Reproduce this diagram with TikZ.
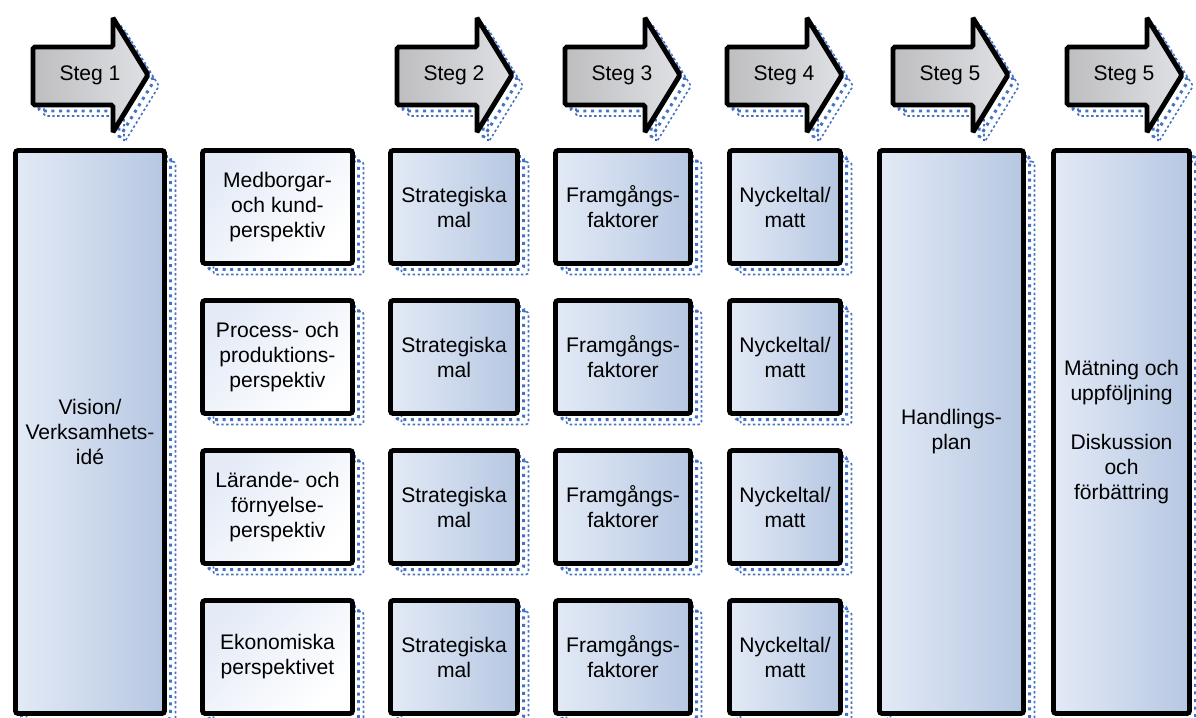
\documentclass[tikz,border=0pt]{standalone}
\usepackage{fontspec}
\setmainfont{Liberation Sans}
\newdimen\pxu
\pxu=0.02cm
\definecolor{shadowblue}{RGB}{68,114,196}
\definecolor{boxleft}{RGB}{227,234,246}
\definecolor{boxright}{RGB}{182,199,226}
\definecolor{persptop}{RGB}{228,235,247}
\definecolor{arrowleft}{RGB}{190,190,192}
\definecolor{arrowright}{RGB}{222,224,228}
\tikzset{
  dotshadow/.style={
    preaction={draw=shadowblue, line width=1.7pt, dash pattern=on 1.7pt off 2.6pt,
      transform canvas={shift={(6\pxu,-6\pxu)}}},
    preaction={draw=shadowblue, line width=0.9pt, dash pattern=on 1.4pt off 1.4pt,
      transform canvas={shift={(11\pxu,-11\pxu)}}}},
  anybox/.style={draw=black, line width=2.8pt, rounded corners=1.5pt, inner sep=0pt,
    align=center, font=\fontsize{12}{14.2}\selectfont, dotshadow},
  bluebox/.style={anybox, left color=boxleft, right color=boxright},
  perspbox/.style={anybox, top color=persptop, bottom color=white, shading angle=45},
  stegpilen/.style={draw=black, line width=2.8pt, rounded corners=1pt,
    left color=arrowleft, right color=arrowright, dotshadow},
  stegtext/.style={font=\fontsize{12}{14.2}\selectfont}
}
% arrow: left x, name, label
\newcommand{\stegpil}[3]{
  \draw[stegpilen] (#1,47) -- ++(80,0) -- ++(0,-29) -- ++(35,57) -- ++(-35,57)
    -- ++(0,-27) -- ++(-80,0) -- cycle;
  \node[stegtext] (#2) at (#1+57,75) {#3};
}
\begin{document}
\begin{tikzpicture}[x=0.02cm, y=-0.02cm]
\useasboundingbox (0,0) rectangle (1196,717);

% steg arrows
\stegpil{33}{steg1}{Steg 1}
\stegpil{397}{steg2}{Steg 2}
\stegpil{565}{steg3}{Steg 3}
\stegpil{727}{steg4}{Steg 4}
\stegpil{893}{steg5}{Steg 5}
\stegpil{1067}{steg6}{Steg 5}

% tall columns
\node[bluebox, minimum width=149\pxu, minimum height=563\pxu] (vision) at (90,432)
  {Vision/\\Verksamhets-\\idé};
\node[bluebox, minimum width=144\pxu, minimum height=563\pxu] (handling) at (951.5,432)
  {Handlings-\\plan};
\node[bluebox, minimum width=136\pxu, minimum height=563\pxu] (matning) at (1121.5,432)
  {Mätning och\\uppföljning\\[14.2pt]Diskussion\\och\\förbättring};

% perspective rows
\foreach \y/\n/\txt in {207/1/{Medborgar-\\och kund-\\perspektiv},
                        357/2/{Process- och\\produktions-\\perspektiv},
                        507/3/{Lärande- och\\förnyelse-\\perspektiv},
                        657/4/{Ekonomiska\\perspektivet}}
{
  \node[perspbox, minimum width=150\pxu, minimum height=113\pxu] (persp\n) at (277.5,\y) {\txt};
  \node[bluebox, minimum width=127\pxu, minimum height=113\pxu] (mal\n) at (454,\y) {Strategiska\\mal};
  \node[bluebox, minimum width=135\pxu, minimum height=113\pxu] (fram\n) at (623,\y) {Framgångs-\\faktorer};
  \node[bluebox, minimum width=111\pxu, minimum height=113\pxu] (nyck\n) at (785,\y) {Nyckeltal/\\matt};
}
\end{tikzpicture}
\end{document}
